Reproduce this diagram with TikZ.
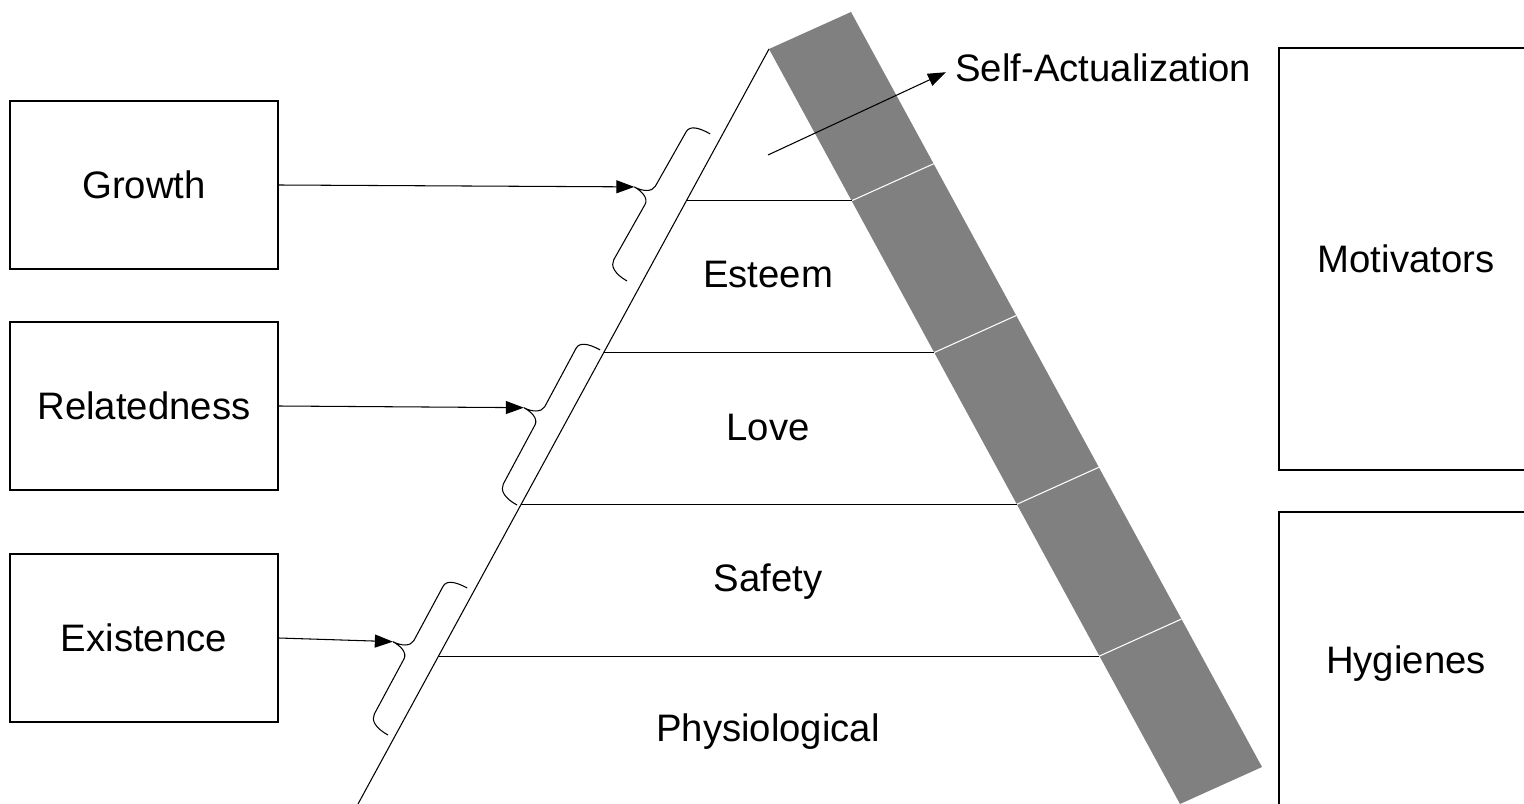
\documentclass[tikz,border=0pt]{standalone}
\usepackage{fontspec}
\setmainfont{Liberation Sans}
\usetikzlibrary{calc,arrows.meta}
\definecolor{bandgray}{RGB}{128,128,128}

\begin{document}
\begin{tikzpicture}[x=0.02cm,y=-0.02cm,
  font=\fontsize{21.8}{26}\selectfont,
  erg/.style={draw,line width=0.9pt,minimum width=5.36cm,minimum height=3.36cm,text height=15.6pt,text depth=0pt},
  herz/.style={draw,line width=0.9pt,minimum width=5.08cm,text height=15.6pt,text depth=0pt},
  level/.style={inner sep=0pt,text height=15.6pt,text depth=0pt},
  tier/.style={line width=0.6pt},
  feed/.style={line width=0.6pt,-{Triangle[length=0.36cm,width=0.26cm]}},
  pics/ergbrace/.style={code={
    \draw[tier] (0,0) .. controls (0,-14) and (5,-22) .. (12,-22)
      -- ({#1/2-9},-22) .. controls ({#1/2-2},-22) and ({#1/2+1},-31) .. ({#1/2+1},-40)
      .. controls ({#1/2+1},-31) and ({#1/2+5},-22) .. ({#1/2+12},-22)
      -- ({#1-10},-22) .. controls ({#1-3},-22) and (#1,-14) .. (#1,0);
    \coordinate (-tip) at ({#1/2+1},-40);}}]

\useasboundingbox (0,0) rectangle (1524,804);
\clip (0,0) rectangle (1524,804);

% pyramid and the grey band on its right side
\coordinate (apex) at (769,49);
\coordinate (lbase) at (358,804);
\coordinate (rbase) at (1180,804);
\fill[bandgray] (apex) -- ++(82,-37) -- ($(rbase)+(82,-37)$) -- (rbase) -- cycle;
\draw[tier] (apex) -- (lbase);
\foreach \k in {1,...,4}{
  \draw[white,line width=0.6pt] ($(apex)!{0.201*\k}!(rbase)$) -- ++(82,-37);
  \draw[tier] ($(apex)!{0.201*\k}!(lbase)$) -- ($(apex)!{0.201*\k}!(rbase)$);
}

\node[level] (esteem) at (768,274) {Esteem};
\node[level] (love) at (768,427) {Love};
\node[level] (safety) at (768,578) {Safety};
\node[level] (physio) at (768,728) {Physiological};

\coordinate (sastart) at (768,155);
\node[level,anchor=west] (selfact) at (955,68) {Self-Actualization};
\draw[feed,shorten >=0.2cm] (sastart) -- (selfact.west);

% ERG boxes
\node[erg] (growth) at (144,185) {Growth};
\node[erg] (related) at (144,406) {Relatedness};
\node[erg] (exist) at (144,638) {Existence};

% Herzberg boxes
\node[herz,minimum height=8.44cm] (motiv) at (1406,259) {Motivators};
\node[herz,minimum height=5.92cm] (hyg) at (1406,660) {Hygienes};

% braces along the left side
\pic[rotate=60.5] (gbr) at (627,281) {ergbrace=169};
\pic[rotate=61.8] (rbr) at (517,505) {ergbrace=176};
\pic[rotate=61.7] (ebr) at (388,735) {ergbrace=167};

\draw[feed] (growth.east) -- (gbr-tip);
\draw[feed] (related.east) -- (rbr-tip);
\draw[feed] (exist.east) -- (ebr-tip);
\end{tikzpicture}
\end{document}
